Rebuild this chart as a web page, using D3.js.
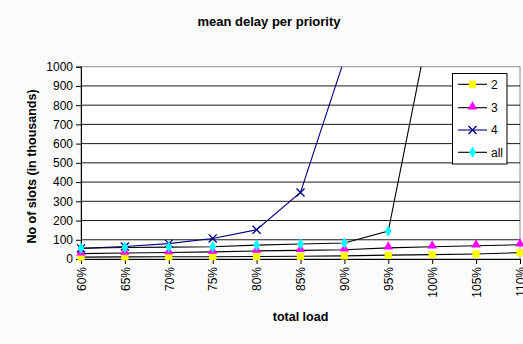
<!DOCTYPE html>
<html>
<head>
<meta charset="utf-8">
<script src="https://cdn.jsdelivr.net/npm/d3@7/dist/d3.min.js"></script>
<style>
  html, body { margin: 0; padding: 0; background: #fbfbfb; }
  svg { display: block; font-family: "Liberation Sans", Arial, sans-serif; }
</style>
</head>
<body>
<svg id="chart" width="523" height="344"></svg>
<script>
// Load levels on the horizontal axis
const categories = ["60%", "65%", "70%", "75%", "80%", "85%", "90%", "95%", "100%", "105%", "110%"];

// Mean delay (thousands of slots) per priority class
const prio2 = [10, 11, 12, 12, 13, 14, 16, 20, 23, 26, 33];
const prio3 = [28, 31, 34, 37, 42, 45, 48, 58, 64, 69, 74];
const prio4 = [55, 65, 80, 107, 152, 346, 1040, null, null, null, null];
const prioAll = [56, 60, 62, 64, 72, 78, 83, 145, 1290, null, null];

const yTicks = [0, 100, 200, 300, 400, 500, 600, 700, 800, 900, 1000];
const seriesNames = ["2", "3", "4", "all"];

const series = [
  { name: seriesNames[0], values: prio2, line: "#000000", marker: "square", fill: "#ffff00" },
  { name: seriesNames[1], values: prio3, line: "#000000", marker: "triangle", fill: "#ff00ff" },
  { name: seriesNames[2], values: prio4, line: "#000080", marker: "cross", fill: "#000080" },
  { name: seriesNames[3], values: prioAll, line: "#000000", marker: "diamond", fill: "#00ffff" }
];

const svg = d3.select("#chart");
const plot = { left: 81, right: 520, top: 66.7, bottom: 259 };

const x = d3.scalePoint().domain(categories).range([plot.left, plot.right]).padding(0);
const y = d3.scaleLinear().domain([0, 1000]).range([plot.bottom, plot.top]);

// Plot area
svg.append("rect")
  .attr("x", plot.left).attr("y", plot.top)
  .attr("width", plot.right - plot.left).attr("height", plot.bottom - plot.top)
  .attr("fill", "#ffffff").attr("stroke", "#8c8c8c").attr("stroke-width", 1);

// Horizontal gridlines
svg.append("g").selectAll("line")
  .data(yTicks.filter(d => d > 0 && d < 1000))
  .join("line")
  .attr("x1", plot.left).attr("x2", plot.right)
  .attr("y1", d => y(d)).attr("y2", d => y(d))
  .attr("stroke", "#1a1a1a").attr("stroke-width", 1);

// Y axis
const yAxis = svg.append("g")
  .attr("transform", `translate(${plot.left},0)`)
  .call(d3.axisLeft(y).tickValues(yTicks).tickSize(5).tickPadding(3).tickFormat(d3.format("d")));
yAxis.select(".domain").attr("stroke", "#000");
yAxis.selectAll(".tick line").attr("stroke", "#000");
yAxis.selectAll("text").attr("font-size", 12).attr("fill", "#000").attr("font-family", "Liberation Sans, Arial, sans-serif");

// X axis
const xAxis = svg.append("g")
  .attr("transform", `translate(0,${plot.bottom})`)
  .call(d3.axisBottom(x).tickSize(5).tickSizeOuter(0));
xAxis.select(".domain").attr("stroke", "#000");
xAxis.selectAll(".tick line").attr("stroke", "#000");
xAxis.selectAll("text")
  .attr("font-size", 12).attr("fill", "#000").attr("font-family", "Liberation Sans, Arial, sans-serif")
  .attr("transform", "rotate(-90)")
  .attr("text-anchor", "end")
  .attr("x", -8).attr("y", 0).attr("dy", "0.35em");

// Clip lines to the plot area
svg.append("clipPath").attr("id", "plotClip")
  .append("rect")
  .attr("x", plot.left).attr("y", plot.top)
  .attr("width", plot.right - plot.left + 1).attr("height", plot.bottom - plot.top);

const line = d3.line()
  .defined(d => d.v != null)
  .x(d => x(d.c))
  .y(d => y(d.v));

const markerPath = {
  square: d3.symbol(d3.symbolSquare, 52),
  triangle: d3.symbol(d3.symbolTriangle, 40),
  diamond: d3.symbol(d3.symbolDiamond, 38),
  cross: d3.symbol(d3.symbolX, 44)
};

function drawMarker(g, s, px, py) {
  const p = g.append("path")
    .attr("d", markerPath[s.marker]())
    .attr("transform", `translate(${px},${py})`);
  if (s.marker === "cross") {
    p.attr("fill", "none").attr("stroke", s.fill).attr("stroke-width", 1.3);
  } else {
    p.attr("fill", s.fill).attr("stroke", "none");
  }
  return p;
}

const linesG = svg.append("g").attr("clip-path", "url(#plotClip)");
series.forEach(s => {
  const pts = categories.map((c, i) => ({ c, v: s.values[i] }));
  linesG.append("path")
    .datum(pts)
    .attr("d", line)
    .attr("fill", "none")
    .attr("stroke", s.line)
    .attr("stroke-width", 1.1);
});

// Markers drawn after all lines, lowest series first
const markersG = svg.append("g");
series.forEach(s => {
  categories.forEach((c, i) => {
    const v = s.values[i];
    if (v == null || v > 1000) return;
    drawMarker(markersG, s, x(c), y(v) + (s.marker === "triangle" ? -1 : 0));
  });
});

// Legend
const legend = svg.append("g");
legend.append("rect")
  .attr("x", 452.5).attr("y", 73.5).attr("width", 54.5).attr("height", 90.5)
  .attr("fill", "#ffffff").attr("stroke", "#000").attr("stroke-width", 1);
const legendY = [84.3, 107.7, 130, 152.3];
series.forEach((s, i) => {
  const ly = legendY[i];
  legend.append("line")
    .attr("x1", 458).attr("x2", 487).attr("y1", ly).attr("y2", ly)
    .attr("stroke", s.line).attr("stroke-width", 1.1);
  drawMarker(legend, s, 472.5, ly + (s.marker === "triangle" ? -1 : 0));
  legend.append("text")
    .attr("x", 491).attr("y", ly).attr("dy", "0.36em")
    .attr("font-size", 12).attr("fill", "#000")
    .text(s.name);
});

// Titles
svg.append("text")
  .attr("x", 269).attr("y", 25.5)
  .attr("text-anchor", "middle").attr("font-size", 13).attr("font-weight", "bold").attr("fill", "#000")
  .text("mean delay per priority");

svg.append("text")
  .attr("x", 300.5).attr("y", 321)
  .attr("text-anchor", "middle").attr("font-size", 12.5).attr("font-weight", "bold").attr("fill", "#000")
  .text("total load");

svg.append("text")
  .attr("transform", "translate(35.5,166.5) rotate(-90)")
  .attr("text-anchor", "middle").attr("font-size", 12.5).attr("font-weight", "bold").attr("fill", "#000")
  .text("No of slots (in thousands)");
</script>
</body>
</html>
